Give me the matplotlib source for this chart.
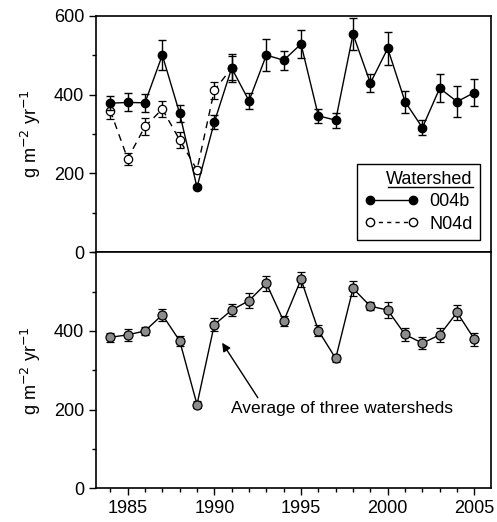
import numpy as np
import matplotlib
matplotlib.use("Agg")
import matplotlib.pyplot as plt
from matplotlib.lines import Line2D
from matplotlib.ticker import MultipleLocator

plt.rcParams["font.family"] = ["Liberation Sans", "DejaVu Sans"]
plt.rcParams["font.size"] = 13

# --- data ---
years = list(range(1984, 2006))

ws_004b = [378, 380, 379, 500, 352, 165, 330, 467, 384, 500, 487, 528, 346, 335,
           553, 429, 517, 382, 316, 416, 382, 405]
ws_004b_err = [18, 23, 23, 38, 21, 5, 18, 35, 20, 40, 24, 36, 17, 19,
               41, 22, 42, 28, 19, 35, 40, 35]

years_n04d = list(range(1984, 1992))
ws_n04d = [359, 237, 319, 363, 285, 209, 411, 467]
ws_n04d_err = [22, 16, 22, 21, 20, 8, 22, 30]

avg3 = [384, 390, 400, 441, 375, 213, 416, 453, 477, 521, 425, 531, 401, 330,
        508, 463, 453, 391, 369, 390, 447, 379]
avg3_err = [12, 15, 10, 15, 13, 10, 16, 15, 19, 19, 12, 18, 14, 10,
            19, 11, 20, 17, 16, 17, 19, 16]

fig = plt.figure(figsize=(4.97, 5.22), dpi=100)
ax1 = fig.add_axes([0.193, 0.5167, 0.795, 0.4533])
ax2 = fig.add_axes([0.193, 0.0646, 0.795, 0.4521])

ebkw = dict(capsize=2.6, elinewidth=1.0, capthick=1.0, color="black", lw=1.0)

ax1.errorbar(years, ws_004b, yerr=ws_004b_err, fmt="-o", ms=6,
             mfc="black", mec="black", zorder=3, **ebkw)
ax1.errorbar(years_n04d, ws_n04d, yerr=ws_n04d_err, fmt="--o", ms=6,
             mfc="white", mec="black", mew=0.9, dashes=(5, 4), zorder=2, **ebkw)

ax2.errorbar(years, avg3, yerr=avg3_err, fmt="-o", ms=6.5,
             mfc="#8c8c8c", mec="black", mew=0.9, **ebkw)

for ax in (ax1, ax2):
    ax.set_xlim(1983.17, 2005.96)
    ax.set_ylim(0, 600)
    ax.xaxis.set_major_locator(MultipleLocator(5))
    ax.xaxis.set_minor_locator(MultipleLocator(1))
    ax.yaxis.set_major_locator(MultipleLocator(200))
    ax.yaxis.set_minor_locator(MultipleLocator(100))
    ax.tick_params(which="major", direction="out", length=5, width=1.0)
    ax.tick_params(which="minor", direction="out", length=3, width=1.0)
    ax.tick_params(top=False, right=False)
    for s in ax.spines.values():
        s.set_linewidth(1.2)
    ax.set_ylabel("g m$^{-2}$ yr$^{-1}$", fontsize=13, labelpad=8)

ax1.tick_params(labelbottom=False)
ax2.set_yticks([0, 200, 400])
ax2.yaxis.set_minor_locator(MultipleLocator(100))

# legend
h1 = Line2D([], [], color="black", marker="o", ms=6, lw=1.0, mfc="black")
h2 = Line2D([], [], color="black", marker="o", ms=6, lw=1.0, mfc="white",
            ls="--", dashes=(3, 3))
leg = ax1.legend([h1, h2], ["004b", "N04d"], title="Watershed", loc="lower right",
                 bbox_to_anchor=(0.972, 0.052), borderaxespad=0, numpoints=2,
                 handlelength=3.0, fancybox=False, edgecolor="black", framealpha=1,
                 fontsize=13, title_fontsize=13, borderpad=0.4,
                 handletextpad=0.6, labelspacing=0.3)
leg.get_frame().set_linewidth(1.0)
leg._legend_box.align = "right"
ax1.add_line(Line2D([0.739, 0.954], [0.277, 0.277], transform=ax1.transAxes,
                    color="black", lw=1.0, zorder=10))

ax2.annotate("Average of three watersheds", xy=(1990.45, 370), xytext=(1990.95, 204),
             fontsize=12.5, va="center", ha="left",
             arrowprops=dict(arrowstyle="-|>", color="black", lw=1.0,
                             shrinkA=0, shrinkB=0, relpos=(0.13, 1.0)))

fig.savefig("out.png", dpi=100)
